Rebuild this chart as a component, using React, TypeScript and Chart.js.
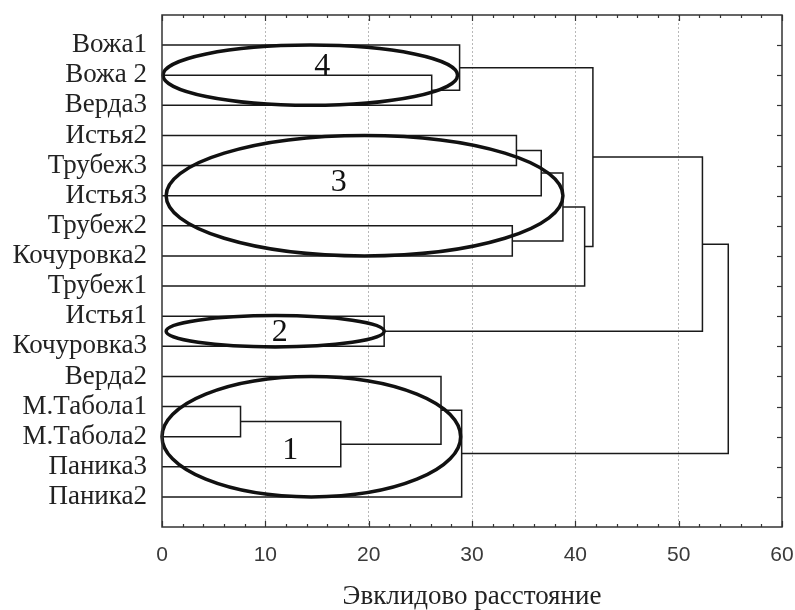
import React, { useEffect, useRef } from "react";
import { Chart, registerables } from "chart.js";

Chart.register(...registerables);

// Leaves of the dendrogram, top to bottom
const leaves = [
  "Вожа1", "Вожа 2", "Верда3", "Истья2", "Трубеж3", "Истья3", "Трубеж2",
  "Кочуровка2", "Трубеж1", "Истья1", "Кочуровка3", "Верда2", "М.Табола1",
  "М.Табола2", "Паника3", "Паника2",
];

// Linkage (node ids: 0..15 leaves, 16.. merges in this order)
const mergeLeft = [1, 0, 3, 18, 6, 19, 21, 17, 9, 23, 12, 26, 11, 28, 25];
const mergeRight = [2, 16, 4, 5, 7, 20, 8, 22, 10, 24, 13, 14, 27, 15, 29];
const mergeHeight = [26.1, 28.8, 34.3, 36.7, 33.9, 38.8, 40.9, 41.7, 21.5, 52.3, 7.6, 17.3, 27.0, 29.0, 54.8];

// X axis ticks
const xTicks = [0, 10, 20, 30, 40, 50, 60];
const xTitle = "Эвклидово расстояние";

// Cluster annotations (ellipses, in data units)
const clusterNames = ["1", "2", "3", "4"];
const clusterXMin = [0, 0.4, 0.4, 0.1];
const clusterXMax = [28.9, 21.5, 38.8, 28.6];
const clusterRow = [14, 10.5, 6, 2];
const clusterRowRadius = [2, 0.52, 2, 1];
const clusterLabelX = [12.4, 11.4, 17.1, 15.5];
const clusterLabelY = [14.45, 10.55, 5.55, 1.72];

const SERIF = '"Liberation Serif", "Times New Roman", serif';
const SANS = '"Liberation Sans", Arial, sans-serif';

function buildSegments() {
  const nx: number[] = [];
  const ny: number[] = [];
  leaves.forEach((_, i) => {
    nx.push(0);
    ny.push(i + 1);
  });
  const segs: { x: number; y: number }[][] = [];
  mergeLeft.forEach((l, k) => {
    const r = mergeRight[k];
    const h = mergeHeight[k];
    segs.push([
      { x: nx[l], y: ny[l] },
      { x: h, y: ny[l] },
      { x: h, y: ny[r] },
      { x: nx[r], y: ny[r] },
    ]);
    nx.push(h);
    ny.push((ny[l] + ny[r]) / 2);
  });
  return segs;
}

const dendroPlugin = {
  id: "dendroDecor",
  beforeDraw(chart: any) {
    const { ctx, width, height } = chart;
    ctx.save();
    ctx.fillStyle = "#ffffff";
    ctx.fillRect(0, 0, width, height);
    ctx.restore();
  },
  afterDatasetsDraw(chart: any) {
    const { ctx, chartArea, scales } = chart;
    const { left, right, top, bottom } = chartArea;
    const xs = scales.x;
    const ys = scales.y;
    ctx.save();
    // ellipses
    ctx.strokeStyle = "#111111";
    ctx.lineWidth = 3.5;
    clusterNames.forEach((name, i) => {
      const x0 = xs.getPixelForValue(clusterXMin[i]);
      const x1 = xs.getPixelForValue(clusterXMax[i]);
      const cy = ys.getPixelForValue(clusterRow[i]);
      const ry = Math.abs(ys.getPixelForValue(clusterRow[i] + clusterRowRadius[i]) - cy);
      ctx.beginPath();
      ctx.ellipse((x0 + x1) / 2, cy, (x1 - x0) / 2, ry, 0, 0, Math.PI * 2);
      ctx.stroke();
    });
    ctx.fillStyle = "#111111";
    ctx.font = `32px ${SERIF}`;
    ctx.textAlign = "center";
    ctx.textBaseline = "middle";
    clusterNames.forEach((name, i) => {
      ctx.fillText(name, xs.getPixelForValue(clusterLabelX[i]), ys.getPixelForValue(clusterLabelY[i]));
    });
    // frame
    ctx.strokeStyle = "#333333";
    ctx.lineWidth = 1.5;
    ctx.strokeRect(left, top, right - left, bottom - top);
    // inward ticks
    ctx.lineWidth = 1.2;
    for (let v = xs.min; v <= xs.max; v += 2) {
      const px = Math.round(xs.getPixelForValue(v)) + 0.5;
      const len = v % 10 === 0 ? 6 : 3;
      ctx.beginPath();
      ctx.moveTo(px, bottom);
      ctx.lineTo(px, bottom - len);
      ctx.moveTo(px, top);
      ctx.lineTo(px, top + len);
      ctx.stroke();
    }
    leaves.forEach((_, i) => {
      const py = Math.round(ys.getPixelForValue(i + 1)) + 0.5;
      ctx.beginPath();
      ctx.moveTo(right, py);
      ctx.lineTo(right - 5, py);
      ctx.stroke();
    });
    ctx.restore();
  },
};

export default function App() {
  const ref = useRef<HTMLCanvasElement | null>(null);
  useEffect(() => {
    if (!ref.current) return;
    const segs = buildSegments();
    const chart = new Chart(ref.current, {
      type: "scatter",
      data: {
        datasets: segs.map((s) => ({
          data: s,
          showLine: true,
          borderColor: "#1a1a1a",
          borderWidth: 1.5,
          pointRadius: 0,
          fill: false,
          tension: 0,
        })),
      },
      options: {
        responsive: false,
        animation: false,
        events: [],
        layout: { padding: { left: 0, right: 13, top: 15, bottom: 0 } },
        plugins: {
          legend: { display: false },
          tooltip: { enabled: false },
          title: { display: false },
        },
        scales: {
          x: {
            type: "linear",
            min: 0,
            max: 60,
            afterBuildTicks: (scale: any) => {
              scale.ticks = xTicks.map((v) => ({ value: v }));
            },
            afterFit: (scale: any) => {
              scale.height = 83;
              scale.paddingLeft = 0;
              scale.paddingRight = 0;
            },
            ticks: {
              font: { family: SANS, size: 21 },
              color: "#3a3a3a",
              padding: 16,
              maxRotation: 0,
              autoSkip: false,
            },
            grid: {
              drawTicks: false,
              lineWidth: 1,
              color: (c: any) =>
                c.tick && c.tick.value > 0 && c.tick.value < 60 ? "#b8b8b8" : "rgba(0,0,0,0)",
            },
            border: { display: false, dash: [2, 2] },
            title: {
              display: true,
              text: xTitle,
              font: { family: SERIF, size: 27, lineHeight: 1.0 },
              color: "#222222",
              padding: { top: 0, bottom: 0 },
            },
          },
          y: {
            type: "linear",
            min: 0,
            max: leaves.length + 1,
            reverse: true,
            afterBuildTicks: (scale: any) => {
              scale.ticks = leaves.map((_, i) => ({ value: i + 1 }));
            },
            afterFit: (scale: any) => {
              scale.width = 162;
              scale.paddingTop = 0;
              scale.paddingBottom = 0;
            },
            ticks: {
              font: { family: SERIF, size: 27, lineHeight: 1.0 },
              color: "#222222",
              padding: 15,
              autoSkip: false,
              callback: (v: any) => leaves[Math.round(Number(v)) - 1] ?? "",
            },
            grid: { display: false, drawTicks: false },
            border: { display: false },
          },
        },
      },
      plugins: [dendroPlugin],
    });
    return () => chart.destroy();
  }, []);
  return (
    <div style={{ position: "fixed", left: 0, top: 0, width: 795, height: 610, background: "#fff" }}>
      <canvas ref={ref} width={795} height={610} style={{ width: 795, height: 610, display: "block" }} />
    </div>
  );
}
